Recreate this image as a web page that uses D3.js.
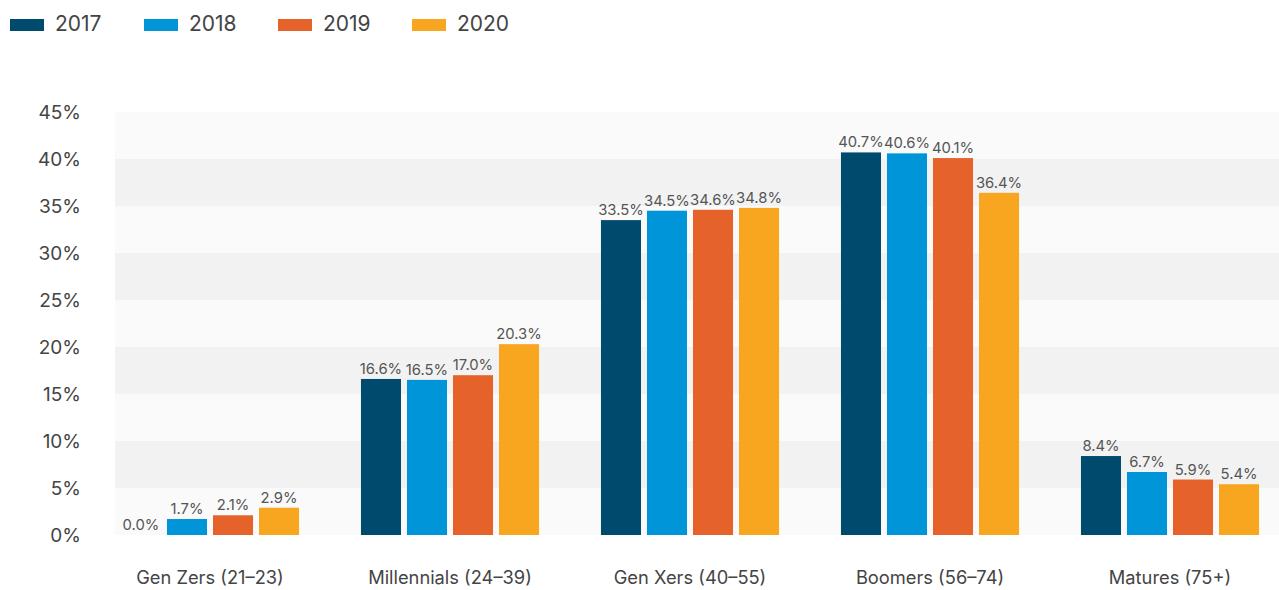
<!DOCTYPE html>
<html>
<head>
<meta charset="utf-8">
<script src="https://cdn.jsdelivr.net/npm/d3@7"></script>
<style>
  body { margin: 0; background: #fff; }
  svg { display: block; font-family: Inter, "Open Sans", sans-serif; }
</style>
</head>
<body>
<div id="chart"></div>
<script>
const categories = ["Gen Zers (21–23)", "Millennials (24–39)", "Gen Xers (40–55)", "Boomers (56–74)", "Matures (75+)"]
const years = ["2017", "2018", "2019", "2020"]
const values2017 = [0.0, 16.6, 33.5, 40.7, 8.4]
const values2018 = [1.7, 16.5, 34.5, 40.6, 6.7]
const values2019 = [2.1, 17.0, 34.6, 40.1, 5.9]
const values2020 = [2.9, 20.3, 34.8, 36.4, 5.4]
const yTicks = [0, 5, 10, 15, 20, 25, 30, 35, 40, 45]
const colors = ["#004b6d", "#0095d9", "#e5632a", "#f8a51f"]

const series = [values2017, values2018, values2019, values2020]
const data = categories.map((c, i) => ({
  cat: c,
  vals: years.map((y, j) => ({ year: y, value: series[j][i] })),
}))

const width = 1279
const height = 590
const plotLeft = 115
const plotRight = 1279

const svg = d3.select("#chart").append("svg").attr("width", width).attr("height", height)

const y = d3.scaleLinear().domain([0, 45]).range([535, 112])
const x0 = d3.scaleBand().domain(categories).range([90, 1290]).paddingInner(0.258).paddingOuter(0.129)
const x1 = d3.scaleBand().domain(years).range([0, x0.bandwidth()]).paddingInner(0.13)
const color = d3.scaleOrdinal().domain(years).range(colors)

// alternating background bands
const bands = yTicks.slice(0, -1)
svg.append("g")
  .selectAll("rect")
  .data(bands)
  .join("rect")
  .attr("x", plotLeft)
  .attr("width", plotRight - plotLeft)
  .attr("y", (d) => y(d + 5))
  .attr("height", (d) => y(d) - y(d + 5))
  .attr("fill", (d, i) => (i % 2 === 0 ? "#fafafa" : "#f2f2f2"))

// y axis labels
const yAxis = svg.append("g")
  .attr("transform", "translate(81,0)")
  .call(d3.axisLeft(y).tickValues(yTicks).tickFormat((d) => d + "%").tickSize(0).tickPadding(0))
yAxis.select(".domain").remove()
yAxis.selectAll("text")
  .attr("fill", "#444")
  .attr("font-size", 19)
  .attr("font-family", "Inter, sans-serif")

// x axis labels
const xAxis = svg.append("g")
  .attr("transform", "translate(0,571)")
  .call(d3.axisBottom(x0).tickSize(0).tickPadding(0))
xAxis.select(".domain").remove()
xAxis.selectAll("text")
  .attr("fill", "#444")
  .attr("font-size", 18.3)
  .attr("font-family", "Inter, sans-serif")

// bars
const groups = svg.append("g")
  .selectAll("g")
  .data(data)
  .join("g")
  .attr("transform", (d) => `translate(${x0(d.cat)},0)`)

groups.selectAll("rect")
  .data((d) => d.vals)
  .join("rect")
  .attr("x", (d) => x1(d.year))
  .attr("width", x1.bandwidth())
  .attr("y", (d) => y(d.value))
  .attr("height", (d) => y(0) - y(d.value))
  .attr("fill", (d) => color(d.year))

groups.selectAll("text")
  .data((d) => d.vals)
  .join("text")
  .attr("x", (d) => x1(d.year) + x1.bandwidth() / 2)
  .attr("y", (d) => y(d.value) - 5)
  .attr("text-anchor", "middle")
  .attr("fill", "#555")
  .attr("font-size", 14.8)
  .text((d) => d.value.toFixed(1) + "%")

// legend
const legend = svg.append("g")
  .selectAll("g")
  .data(years)
  .join("g")
  .attr("transform", (d, i) => `translate(${10 + i * 134},0)`)
legend.append("rect")
  .attr("y", 19)
  .attr("width", 34)
  .attr("height", 12)
  .attr("fill", (d) => color(d))
legend.append("text")
  .attr("x", 45)
  .attr("y", 31)
  .attr("fill", "#444")
  .attr("font-size", 21)
  .text((d) => d)
</script>
</body>
</html>
